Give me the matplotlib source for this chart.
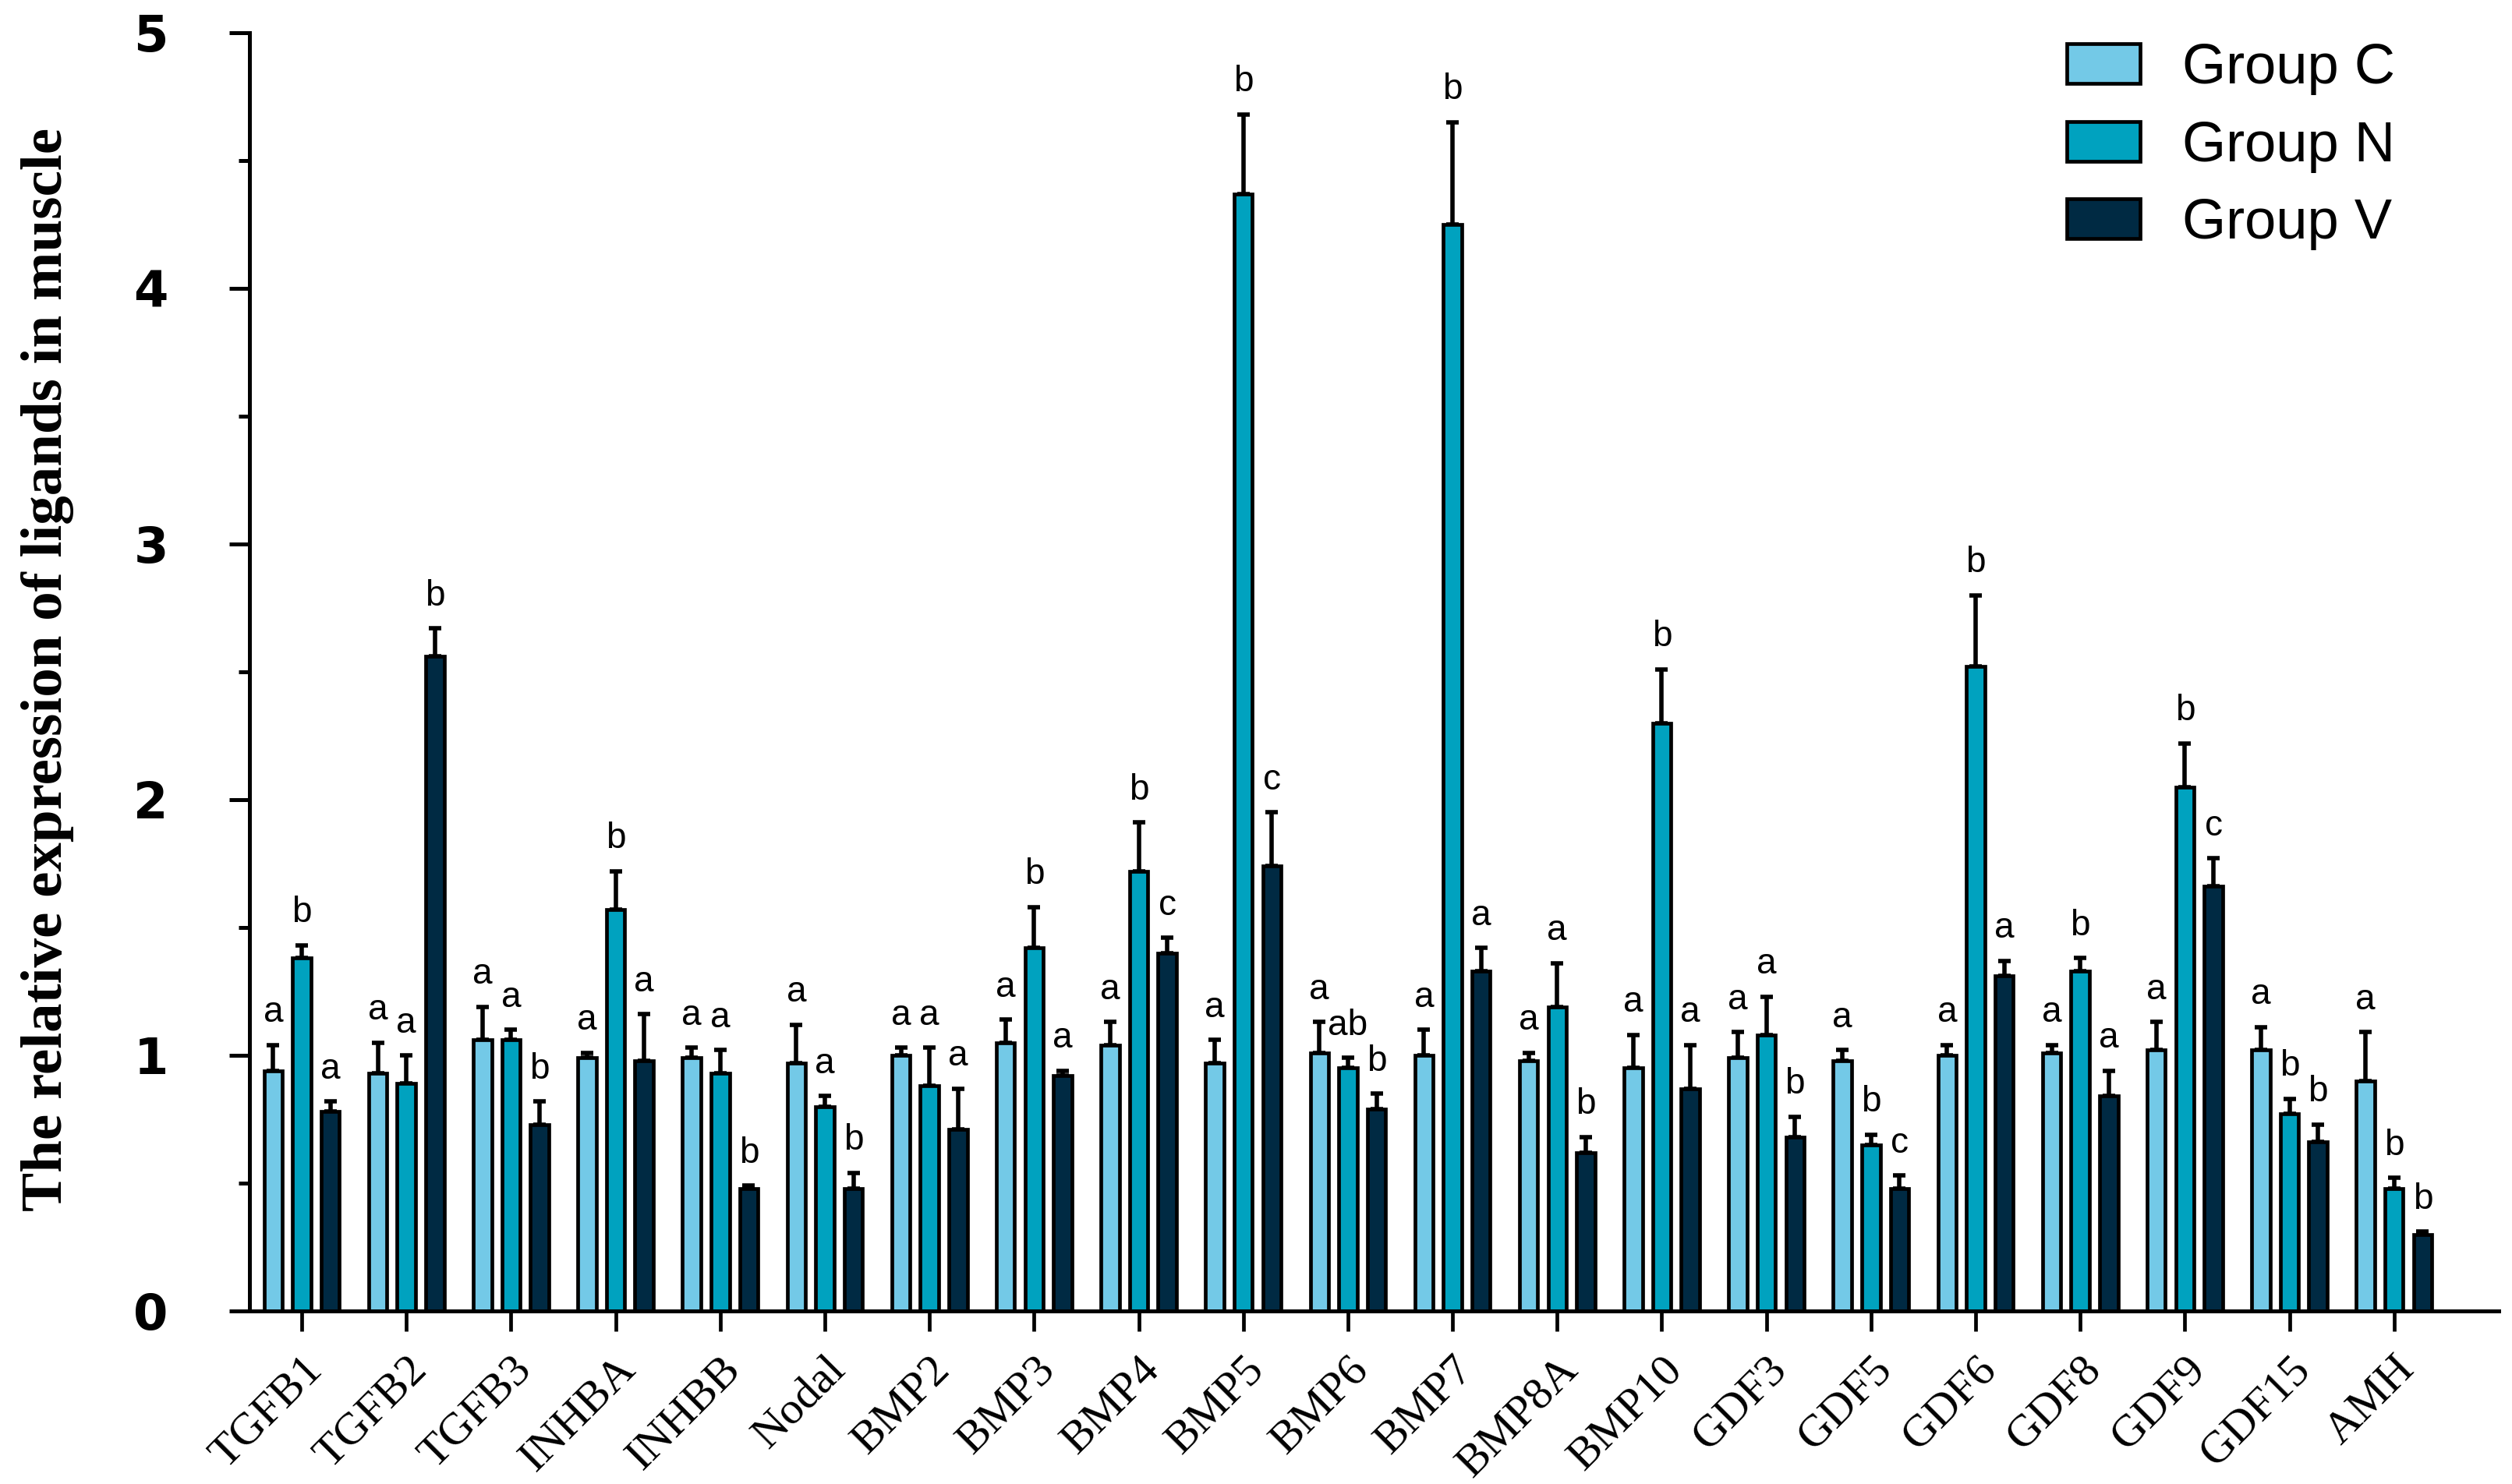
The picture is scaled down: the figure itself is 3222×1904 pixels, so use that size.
import numpy as np
import matplotlib
matplotlib.use("Agg")
import matplotlib.pyplot as plt
from matplotlib.patches import Patch

# Genes (ligands)
genes = ["TGFB1", "TGFB2", "TGFB3", "INHBA", "INHBB", "Nodal", "BMP2", "BMP3",
         "BMP4", "BMP5", "BMP6", "BMP7", "BMP8A", "BMP10", "GDF3", "GDF5",
         "GDF6", "GDF8", "GDF9", "GDF15", "AMH"]

# Mean relative expression
group_c = [0.94, 0.93, 1.06, 0.99, 0.99, 0.97, 1.00, 1.05, 1.04, 0.97, 1.01,
           1.00, 0.98, 0.95, 0.99, 0.98, 1.00, 1.01, 1.02, 1.02, 0.90]
group_n = [1.38, 0.89, 1.06, 1.57, 0.93, 0.80, 0.88, 1.42, 1.72, 4.37, 0.95,
           4.25, 1.19, 2.30, 1.08, 0.65, 2.52, 1.33, 2.05, 0.77, 0.48]
group_v = [0.78, 2.56, 0.73, 0.98, 0.48, 0.48, 0.71, 0.92, 1.40, 1.74, 0.79,
           1.33, 0.62, 0.87, 0.68, 0.48, 1.31, 0.84, 1.66, 0.66, 0.30]

# Error bars (upper only)
err_c = [0.10, 0.12, 0.13, 0.02, 0.04, 0.15, 0.03, 0.09, 0.09, 0.09, 0.12,
         0.10, 0.03, 0.13, 0.10, 0.04, 0.04, 0.03, 0.11, 0.09, 0.19]
err_n = [0.05, 0.11, 0.04, 0.15, 0.09, 0.04, 0.15, 0.16, 0.19, 0.31, 0.04,
         0.40, 0.17, 0.21, 0.15, 0.04, 0.28, 0.05, 0.17, 0.06, 0.04]
err_v = [0.04, 0.11, 0.09, 0.18, 0.01, 0.06, 0.16, 0.02, 0.06, 0.21, 0.06,
         0.09, 0.06, 0.17, 0.08, 0.05, 0.06, 0.10, 0.11, 0.07, 0.01]

# Significance letters
sig_c = ["a"] * 21
sig_n = ["b", "a", "a", "b", "a", "a", "a", "b", "b", "b", "ab", "b", "a", "b",
         "a", "b", "b", "b", "b", "b", "b"]
sig_v = ["a", "b", "b", "a", "b", "b", "a", "a", "c", "c", "b", "a", "b", "a",
         "b", "c", "a", "a", "c", "b", "b"]

groups = ["Group C", "Group N", "Group V"]
colors = ["#73C9E7", "#00A2BF", "#002A43"]

fig = plt.figure(figsize=(32.22, 19.04), dpi=100)
ax = fig.add_axes([0.0993, 0.1166, 0.8954, 0.8614])

x = np.arange(len(genes))
width = 0.175
offset = 0.273

series = [(group_c, err_c, sig_c), (group_n, err_n, sig_n), (group_v, err_v, sig_v)]
for i, (vals, errs, sigs) in enumerate(series):
    pos = x + (i - 1) * offset
    ax.errorbar(pos, vals, yerr=[np.zeros(len(errs)), errs], fmt="none",
                ecolor="black", elinewidth=4, capsize=6, capthick=4, zorder=1)
    ax.bar(pos, vals, width, color=colors[i], edgecolor="black",
           linewidth=3.4, zorder=2)
    for p, v, e, s in zip(pos, vals, errs, sigs):
        ax.annotate(s, (p, v + e), xytext=(0, 14), textcoords="offset points",
                    ha="center", va="bottom", fontsize=33,
                    family="Liberation Sans")

ax.set_xlim(-0.5, 21.0)
ax.set_ylim(0, 5)
ax.set_yticks([0, 1, 2, 3, 4, 5])
ax.set_yticks(np.arange(0.5, 5, 1.0), minor=True)
ax.set_xticks(x)
ax.set_xticklabels(genes, rotation=45, ha="right", rotation_mode="anchor",
                   family="Liberation Serif", fontsize=42)
for lab in ax.get_yticklabels():
    lab.set_fontfamily("DejaVu Sans")
    lab.set_fontweight("bold")
    lab.set_fontsize(46)

ax.spines["top"].set_visible(False)
ax.spines["right"].set_visible(False)
ax.spines["left"].set_linewidth(3.6)
ax.spines["bottom"].set_linewidth(3.6)
ax.tick_params(axis="y", which="major", length=19, width=3.6, pad=56)
ax.tick_params(axis="y", which="minor", length=10, width=3.6)
ax.tick_params(axis="x", which="major", length=19, width=3.4, pad=16)

fig.text(0.019, 0.549, "The relative expression of ligands in muscle",
         rotation=90, ha="center", va="center", fontsize=54,
         family="Liberation Serif", weight="bold")

handles = [Patch(facecolor=c, edgecolor="black", linewidth=3.4) for c in colors]
fig.legend(handles, groups, loc="upper right",
           bbox_to_anchor=(3072 / 3222, 1 - 55 / 1904), frameon=False,
           prop={"family": "Liberation Sans", "size": 52},
           handlelength=1.3, handleheight=0.7, handletextpad=0.75,
           labelspacing=0.45, borderpad=0, borderaxespad=0)

fig.savefig("out.png", dpi=100)
